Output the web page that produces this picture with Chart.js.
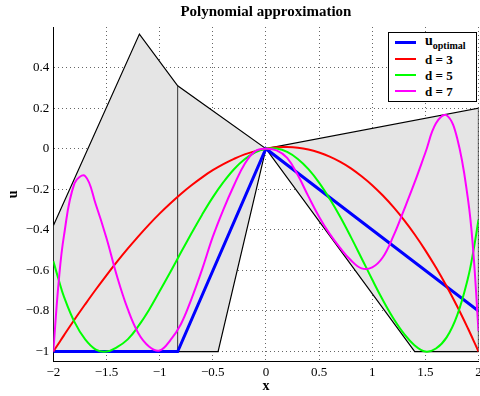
<!DOCTYPE html>
<html>
<head>
<meta charset="utf-8">
<script src="https://cdn.jsdelivr.net/npm/chart.js@4.4.1/dist/chart.umd.min.js"></script>
<style>
  body { margin: 0; background: #fff; }
  #wrap { position: relative; width: 480px; height: 396px; }
  #legend {
    position: absolute; left: 388px; top: 32px; width: 87px; height: 68px;
    border: 1px solid #000; background: #fff;
    font-family: "Liberation Serif", serif; font-weight: bold; color: #000;
  }
  .row { position: absolute; left: 0; height: 0; width: 100%; }
  .row .ln { position: absolute; left: 6px; width: 21px; }
  .row .tx { position: absolute; left: 36px; white-space: nowrap; font-size: 13px; line-height: 16px; top: -7px; }
  .row .tx sub { font-size: 10px; vertical-align: -4px; }
  .row .tx .big { font-size: 14px; }
</style>
</head>
<body>
<div id="wrap">
  <canvas id="chart" width="480" height="396"></canvas>
  <div id="legend"></div>
</div>
<script>
// sample points along x (shared by the three polynomial curves)
const xs = [-2, -1.95, -1.9, -1.8, -1.7, -1.6, -1.5, -1.4, -1.3, -1.2, -1.1, -1.0, -0.9, -0.8, -0.7, -0.6, -0.5, -0.4, -0.3, -0.2, -0.1,
            0, 0.1, 0.2, 0.3, 0.4, 0.5, 0.6, 0.7, 0.8, 0.9, 1.0, 1.1, 1.2, 1.3, 1.4, 1.5, 1.6, 1.7, 1.8, 1.9, 1.95, 2];

const d3 = [-1, -0.96, -0.92, -0.842, -0.767, -0.694, -0.624, -0.557, -0.493, -0.432, -0.374, -0.32, -0.27, -0.223, -0.18, -0.141, -0.106, -0.076, -0.05, -0.028, -0.012,
            0, 0.007, 0.008, 0.005, -0.004, -0.019, -0.039, -0.065, -0.097, -0.136, -0.18, -0.231, -0.288, -0.352, -0.423, -0.501, -0.586, -0.678, -0.778, -0.885, -0.942, -1];

const d5 = [-0.554, -0.645, -0.729, -0.855, -0.94, -0.99, -1.0, -0.978, -0.94, -0.875, -0.795, -0.703, -0.609, -0.512, -0.417, -0.325, -0.24, -0.165, -0.101, -0.052, -0.018,
            0, 0.0005, -0.016, -0.051, -0.101, -0.167, -0.247, -0.337, -0.436, -0.54, -0.645, -0.746, -0.837, -0.913, -0.97, -1.0, -0.985, -0.93, -0.82, -0.64, -0.51, -0.35];

const d7 = [-1.0, -0.66, -0.43, -0.17, -0.135, -0.275, -0.44, -0.63, -0.79, -0.91, -0.975, -0.995, -0.945, -0.865, -0.74, -0.595, -0.435, -0.3, -0.18, -0.075, -0.012,
            0, -0.008, -0.045, -0.13, -0.235, -0.335, -0.42, -0.49, -0.55, -0.59, -0.585, -0.535, -0.43, -0.3, -0.165, -0.02, 0.125, 0.165, 0.05, -0.245, -0.5, -0.9];

// optimal control (piecewise linear)
const uOptX = [-2, -0.83, 0, 2];
const uOptY = [-1, -1, 0, -0.8];

// shaded admissible region (outline, closed)
const regionX = [-2, -1.19, -0.83, 0, 2, 2, 1.4, 0, -0.45, -2, -2];
const regionY = [-0.38, 0.565, 0.31, 0, 0.2, -1, -1, 0, -1, -1, -0.38];

// thin vertical separator
const splitX = [-0.83, -0.83];
const splitY = [-1, 0.31];

const xTicks = [-2, -1.5, -1, -0.5, 0, 0.5, 1, 1.5, 2];
const xTickLabels = ['\u22122', '\u22121.5', '\u22121', '\u22120.5', '0', '0.5', '1', '1.5', '2'];
const yTicks = [-1, -0.8, -0.6, -0.4, -0.2, 0, 0.2, 0.4];
const yTickLabels = ['\u22121', '\u22120.8', '\u22120.6', '\u22120.4', '\u22120.2', '0', '0.2', '0.4'];

const seriesLabels = ['u_optimal', 'd = 3', 'd = 5', 'd = 7'];
const seriesColors = ['#0000ff', '#ff0000', '#00ff00', '#ff00ff'];
const seriesWidths = [3, 2, 2, 2];

function pts(xv, yv) {
  return xv.map((x, i) => ({ x: x, y: yv[i] }));
}

const serif = '"Liberation Serif", "Times New Roman", serif';

const datasets = [
  { label: 'region', data: pts(regionX, regionY), showLine: true, borderColor: '#000', borderWidth: 1.2,
    backgroundColor: '#e5e5e5', fill: 'shape', tension: 0, order: 6 },
  { label: 'split', data: pts(splitX, splitY), showLine: true, borderColor: '#333', borderWidth: 1, tension: 0, order: 5 },
  { label: seriesLabels[0], data: pts(uOptX, uOptY), showLine: true, borderColor: seriesColors[0], borderWidth: seriesWidths[0], tension: 0, order: 4 },
  { label: seriesLabels[1], data: pts(xs, d3), showLine: true, borderColor: seriesColors[1], borderWidth: seriesWidths[1], tension: 0.4, order: 3 },
  { label: seriesLabels[2], data: pts(xs, d5), showLine: true, borderColor: seriesColors[2], borderWidth: seriesWidths[2], tension: 0.4, order: 2 },
  { label: seriesLabels[3], data: pts(xs, d7), showLine: true, borderColor: seriesColors[3], borderWidth: seriesWidths[3], tension: 0.4, order: 1 }
];

const ctx = document.getElementById('chart').getContext('2d');
new Chart(ctx, {
  type: 'scatter',
  data: { datasets: datasets },
  options: {
    responsive: false,
    animation: false,
    layout: { padding: { left: 0, right: 1.5, top: 0, bottom: 0 }, autoPadding: false },
    elements: { point: { radius: 0, hoverRadius: 0 } },
    plugins: {
      legend: { display: false },
      tooltip: { enabled: false },
      title: {
        display: true, text: 'Polynomial approximation', fullSize: false, color: '#000',
        font: { family: serif, size: 15, weight: 'bold' }, padding: { top: 3, bottom: 6 }
      }
    },
    scales: {
      x: {
        type: 'linear', min: -2, max: 2,
        afterBuildTicks: axis => { axis.ticks = xTicks.map(v => ({ value: v })); },
        afterFit: axis => { axis.height = 34.3; axis.paddingLeft = 0; axis.paddingRight = 0; },
        ticks: { callback: (v, i) => xTickLabels[i], color: '#000', padding: 3, maxRotation: 0, autoSkip: false,
                 font: { family: serif, size: 13 } },
        grid: { color: 'rgba(0,0,0,0.6)', lineWidth: 1, drawTicks: false },
        border: { display: true, color: '#000', width: 1, dash: [1, 3] },
        title: { display: true, text: 'x', color: '#000', font: { family: serif, size: 14, weight: 'bold' }, padding: { top: 0, bottom: 1.3 } }
      },
      y: {
        type: 'linear', min: -1.05, max: 0.6,
        afterBuildTicks: axis => { axis.ticks = yTicks.map(v => ({ value: v })); },
        afterFit: axis => { axis.width = 53.3; axis.paddingTop = 0; axis.paddingBottom = 0; },
        ticks: { callback: (v, i) => yTickLabels[i], color: '#000', padding: 4, autoSkip: false,
                 font: { family: serif, size: 13 } },
        grid: { color: 'rgba(0,0,0,0.6)', lineWidth: 1, drawTicks: false },
        border: { display: true, color: '#000', width: 1, dash: [1, 3] },
        title: { display: true, text: 'u', color: '#000', font: { family: serif, size: 14, weight: 'bold' }, padding: { top: 5.4, bottom: 0 } }
      }
    }
  }
});

// legend with subscript, built from the series labels
const legend = document.getElementById('legend');
const rowY = [9, 25.5, 42, 58];
seriesLabels.forEach((lab, i) => {
  const row = document.createElement('div');
  row.className = 'row';
  row.style.top = rowY[i] + 'px';
  const ln = document.createElement('div');
  ln.className = 'ln';
  ln.style.height = seriesWidths[i] + 'px';
  ln.style.top = (-seriesWidths[i] / 2) + 'px';
  ln.style.background = seriesColors[i];
  const tx = document.createElement('span');
  tx.className = 'tx';
  const parts = lab.split('_');
  if (parts.length > 1) {
    tx.innerHTML = '<span class="big">' + parts[0] + '</span><sub>' + parts[1] + '</sub>';
    tx.style.top = '-9px';
  } else {
    tx.textContent = lab;
  }
  row.appendChild(ln);
  row.appendChild(tx);
  legend.appendChild(row);
});
</script>
</body>
</html>
